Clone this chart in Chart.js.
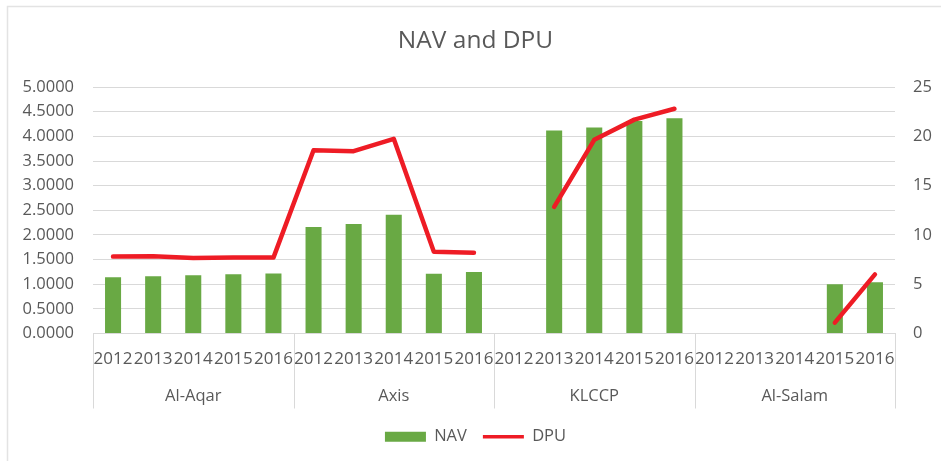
<!DOCTYPE html>
<html>
<head>
<meta charset="utf-8">
<script src="https://cdn.jsdelivr.net/npm/chart.js@4"></script>
<style>
  html, body { margin: 0; padding: 0; background: #ffffff; }
  #wrap { width: 941px; height: 461px; position: relative; }
</style>
</head>
<body>
<div id="wrap"><canvas id="c" width="941" height="461"></canvas></div>
<script>
// ---- data ----
const groups = ['Al-Aqar', 'Axis', 'KLCCP', 'Al-Salam'];
const years = ['2012', '2013', '2014', '2015', '2016'];
const navValues = [
  1.14, 1.16, 1.18, 1.20, 1.22,
  2.16, 2.22, 2.41, 1.21, 1.25,
  null, 4.12, 4.18, 4.31, 4.37,
  null, null, null, 1.00, 1.04
];
const dpuValues = [
  7.80, 7.85, 7.65, 7.70, 7.70,
  18.60, 18.50, 19.75, 8.30, 8.20,
  null, 12.85, 19.65, 21.70, 22.80,
  null, null, null, 1.10, 6.00
];
const navMax = 5, navStep = 0.5;
const dpuMax = 25, dpuStep = 5;

// ---- build ----
const labels = [];
groups.forEach(() => years.forEach(y => labels.push(y)));

const TEXT = '#595959';
const GRID = '#d9d9d9';
const FONT = 'Open Sans';

const separators = {
  id: 'separators',
  afterDraw(chart) {
    const x = chart.scales.x;
    const g = chart.scales.group;
    const ctx = chart.ctx;
    ctx.save();
    ctx.strokeStyle = GRID;
    ctx.lineWidth = 1;
    for (let i = 0; i <= groups.length; i++) {
      const px = Math.round(x.getPixelForValue(i * years.length - 0.5)) + 0.5;
      ctx.beginPath();
      ctx.moveTo(px, chart.chartArea.bottom);
      ctx.lineTo(px, g.bottom - 4);
      ctx.stroke();
    }
    ctx.restore();
  }
};

const frame = {
  id: 'frame',
  beforeDraw(chart) {
    const ctx = chart.ctx;
    ctx.save();
    ctx.strokeStyle = '#e3e3e3';
    ctx.lineWidth = 1.5;
    ctx.beginPath();
    ctx.moveTo(7.5, chart.height);
    ctx.lineTo(7.5, 6.5);
    ctx.lineTo(chart.width, 6.5);
    ctx.stroke();
    ctx.restore();
  }
};

new Chart(document.getElementById('c'), {
  data: {
    labels: labels,
    datasets: [
      {
        type: 'bar',
        label: 'NAV',
        data: navValues,
        backgroundColor: '#69a944',
        borderWidth: 0,
        barPercentage: 0.4,
        categoryPercentage: 1.0,
        pointStyle: 'rect',
        yAxisID: 'y',
        order: 1
      },
      {
        type: 'line',
        label: 'DPU',
        data: dpuValues,
        borderColor: '#ee1c25',
        backgroundColor: '#ee1c25',
        borderWidth: 4.5,
        borderCapStyle: 'round',
        borderJoinStyle: 'round',
        pointRadius: 0,
        pointHoverRadius: 0,
        pointStyle: 'line',
        tension: 0,
        spanGaps: false,
        yAxisID: 'y1',
        order: 0
      }
    ]
  },
  options: {
    responsive: false,
    animation: false,
    events: [],
    layout: { padding: { top: 7, left: 10, right: 0, bottom: 6 } },
    plugins: {
      title: {
        display: true,
        text: 'NAV and DPU',
        color: TEXT,
        font: { family: FONT, size: 24.5, weight: 'normal' },
        padding: { top: 19.3, bottom: 31.4 }
      },
      legend: {
        display: true,
        position: 'bottom',
        labels: {
          color: TEXT,
          font: { family: FONT, size: 16.5 },
          usePointStyle: true,
          pointStyleWidth: 41,
          boxHeight: 10,
          padding: 16,
          sort: (a, b) => a.datasetIndex - b.datasetIndex,
          generateLabels: (chart) => {
            const items = Chart.defaults.plugins.legend.labels.generateLabels(chart);
            items.forEach(it => { it.lineWidth = it.datasetIndex === 1 ? 3.5 : 0; });
            return items;
          }
        }
      },
      tooltip: { enabled: false }
    },
    scales: {
      x: {
        type: 'category',
        position: 'bottom',
        offset: true,
        grid: { display: false, drawTicks: false },
        border: { display: true, color: GRID, width: 1 },
        ticks: {
          color: TEXT,
          font: { family: FONT, size: 17 },
          padding: 15,
          autoSkip: false,
          maxRotation: 0,
          minRotation: 0
        },
        afterFit: (s) => { s.height = 45; }
      },
      group: {
        type: 'category',
        position: 'bottom',
        labels: groups,
        offset: true,
        grid: { display: false, drawTicks: false },
        border: { display: false },
        ticks: {
          color: TEXT,
          font: { family: FONT, size: 16.5 },
          padding: 8,
          autoSkip: false,
          maxRotation: 0
        },
        afterFit: (s) => { s.height = 34; }
      },
      y: {
        type: 'linear',
        position: 'left',
        min: 0,
        max: navMax,
        grid: { color: GRID, lineWidth: 1, drawTicks: false },
        border: { display: false },
        ticks: {
          stepSize: navStep,
          color: TEXT,
          font: { family: FONT, size: 16.5 },
          padding: 19,
          callback: (v) => Number(v).toFixed(4)
        },
        afterFit: (s) => { s.width = 83; }
      },
      y1: {
        type: 'linear',
        position: 'right',
        min: 0,
        max: dpuMax,
        grid: { drawOnChartArea: false, drawTicks: false },
        border: { display: false },
        ticks: {
          stepSize: dpuStep,
          color: TEXT,
          font: { family: FONT, size: 16.5 },
          padding: 18
        },
        afterFit: (s) => { s.width = 46; }
      }
    }
  },
  plugins: [frame, separators]
});
</script>
</body>
</html>
